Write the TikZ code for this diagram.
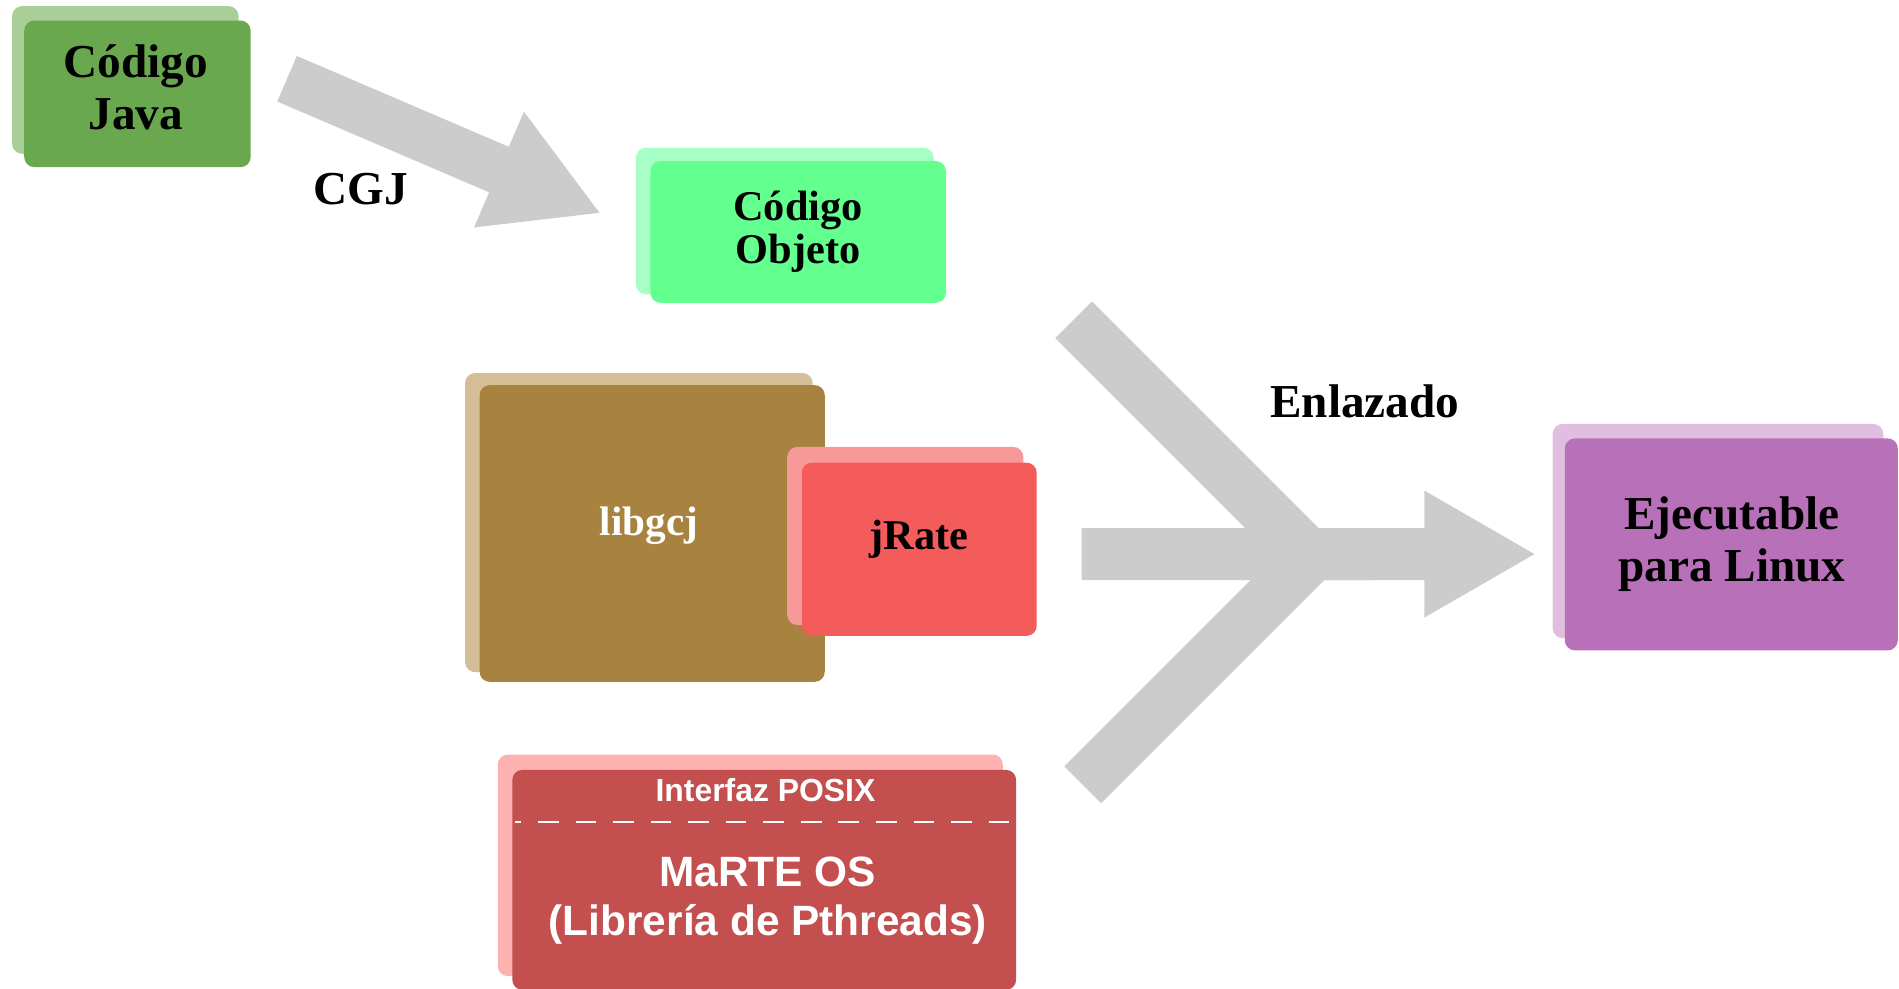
\documentclass[tikz,border=0pt]{standalone}
\usepackage{fontspec}
\setmainfont{Liberation Serif}
\newfontfamily\sansb{Liberation Sans}
\definecolor{javaF}{RGB}{106,168,79}
\definecolor{javaB}{RGB}{169,206,152}
\definecolor{objF}{RGB}{99,255,143}
\definecolor{objB}{RGB}{166,255,196}
\definecolor{libF}{RGB}{168,131,64}
\definecolor{libB}{RGB}{212,190,152}
\definecolor{jrF}{RGB}{244,91,91}
\definecolor{jrB}{RGB}{247,153,153}
\definecolor{maF}{RGB}{195,79,79}
\definecolor{maB}{RGB}{253,177,177}
\definecolor{ejF}{RGB}{184,112,184}
\definecolor{ejB}{RGB}{224,190,224}
\definecolor{arrowgray}{RGB}{204,204,204}
\begin{document}
\begin{tikzpicture}[x=0.6pt,y=-0.6pt,
  box/.style={rectangle, rounded corners=5pt, inner sep=0pt, align=center},
  backbox/.style={rounded corners=5pt},
  serifbig/.style={font=\fontsize{23.4}{25.8}\selectfont\bfseries},
  serifmid/.style={font=\fontsize{21}{21.6}\selectfont\bfseries},
  sanstxt/.style={text=white, font=\sansb\bfseries\fontsize{21}{25}\selectfont},
  graybody/.style={fill=arrowgray}]
\useasboundingbox (0,0) rectangle (1568,816);

% ---- Codigo Java
\fill[javaB, backbox] (10,5) rectangle (197,127);
\node[box, fill=javaF, minimum width=112.2pt, minimum height=72.6pt] (java) at (113.5,77.5) {};
\node[serifbig, align=center] (javatxt) at (112,72) {Código\\Java};

% ---- CGJ arrow
\fill[graybody] (245.1,46.2) -- (420.1,121.2) -- (432.6,92.2) -- (495,175.7)
  -- (391.4,187.8) -- (403.9,158.8) -- (228.9,83.8) -- cycle;
\node[serifbig] (cgj) at (298,156) {CGJ};

% ---- Codigo Objeto
\fill[objB, backbox] (525,122) rectangle (771,243);
\node[box, fill=objF, minimum width=146.4pt, minimum height=70.2pt, serifmid] (obj) at (659,191.5) {Código\\Objeto};

% ---- libgcj
\fill[libB, backbox] (384,308) rectangle (671,555);
\node[box, fill=libF, minimum width=171pt, minimum height=147pt] (lib) at (538.5,440.5) {};
\node[text=white, font=\fontsize{20.4}{24}\selectfont\bfseries] (libtxt) at (536,434) {libgcj};

% ---- jRate
\fill[jrB, backbox] (650,369) rectangle (845,516);
\node[box, fill=jrF, minimum width=116.4pt, minimum height=85.8pt] (jrate) at (759,453.5) {};
\node[serifmid] (jrtxt) at (759,445) {jRate};

% ---- MaRTE OS
\fill[maB, backbox] (411,623) rectangle (828,806);
\node[box, fill=maF, minimum width=249.6pt, minimum height=109pt] (marte) at (631,726.5) {};
\node[text=white, font=\sansb\bfseries\fontsize{15.8}{18}\selectfont] (posix) at (632,652) {Interfaz POSIX};
\coordinate (dl) at (425,679);
\coordinate (dr) at (836,679);
\draw[white, line width=1pt, dash pattern=on 10.2pt off 8.4pt, dash phase=7pt] (dl) -- (dr);
\node[sanstxt] (marteos) at (634,720) {MaRTE OS};
\node[sanstxt] (pth) at (634,763) {(Librería de Pthreads)};

% ---- merging arrow
\fill[graybody] (893,436) -- (1176,436) -- (1176,405) -- (1267,457.5)
  -- (1176,510) -- (1176,479) -- (893,479) -- cycle;
\fill[graybody] (871.3,279.2) -- (901.7,248.8) -- (1131.9,479) -- (1071.1,479) -- cycle;
\fill[graybody] (878.8,632.8) -- (909.2,663.2) -- (1136.4,436) -- (1075.6,436) -- cycle;
\node[serifbig] (enl) at (1127,331) {Enlazado};

% ---- Ejecutable
\fill[ejB, backbox] (1282,350) rectangle (1555,527);
\node[box, fill=ejF, minimum width=165pt, minimum height=105pt] (ejec) at (1429.5,449.5) {};
\node[serifbig, align=center] (ejtxt) at (1430,449) {Ejecutable\\para Linux};
\end{tikzpicture}
\end{document}
